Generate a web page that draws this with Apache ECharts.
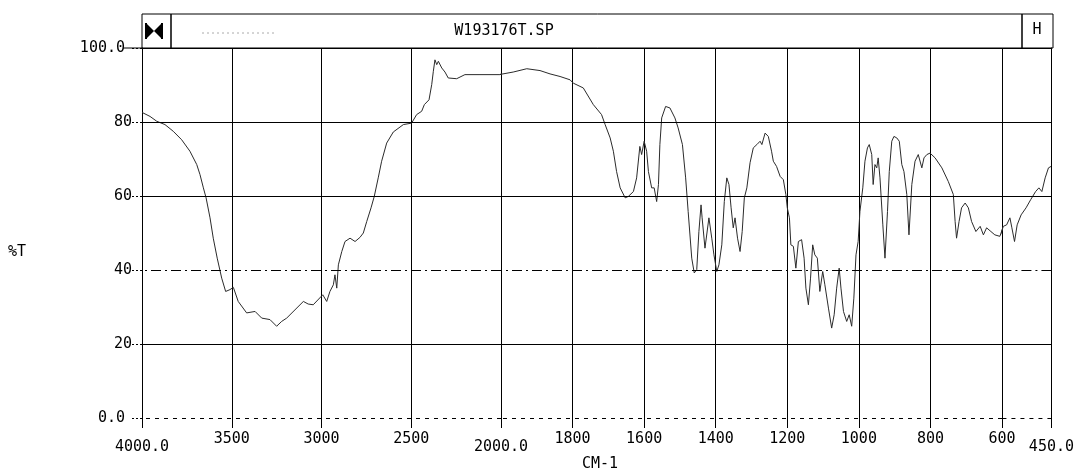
<!DOCTYPE html>
<html><head><meta charset="utf-8">
<script src="https://cdn.jsdelivr.net/npm/echarts@6/dist/echarts.min.js"></script>
<style>html,body{margin:0;padding:0;background:#fff}#c{width:1077px;height:473px}</style>
</head><body><div id="c"></div>
<script>
// ---- data ----
const wavenumber = [4000,3993,3955,3918,3872,3826,3779,3733,3695,3677,3658,3643,3621,3603,3581,3556,3534,3510,3491,3464,3417,3370,3333,3287,3250,3222,3194,
3101,3074,3046,2993,2971,2953,2934,2925,2915,2906,2887,2869,2841,2813,2786,2767,2748,2724,2706,2684,2665,2637,2600,2544,2498,2470,2442,2427,2401,2386,2377,2368,2358,2349,2330,2312,2294,2247,2201,2117,2006,
1966,1928,1891,1863,1835,1807,1798,1770,1742,1719,1709,1695,1686,1677,1667,1653,1644,1630,1621,1612,1607,1600,1593,1588,1579,1572,1565,1560,1556,1551,1540,1528,1514,1505,1493,1484,1477,1467,1460,1453,1447,1441,1438,1430,1419,1411,1405,1397,1391,1383,1376,1369,1363,1357,1351,1346,1339,1332,1326,1320,1313,1304,1295,1285,1276,1271,1262,1253,1244,1239,1230,1220,1211,1204,1200,1194,1190,1183,1176,1169,1160,1153,1148,1141,1135,1129,1123,1116,1109,1101,1095,1085,1076,1069,1062,1055,1050,1043,1034,1027,1020,1014,1008,1002,997,989,983,976,971,964,960,955,950,946,941,933,927,920,915,908,902,894,887,880,874,866,860,852,843,834,824,818,810,801,787,768,750,736,731,727,720,713,703,694,685,673,661,652,643,631,620,606,596,586,576,570,562,554,542,527,513,498,488,479,469,459,451];
const transmittance = [82.6,82.4,81.5,80.2,79.3,77.5,75.2,72.1,68.5,65.8,62.2,59.5,54.1,48.6,43.2,37.8,34.2,34.7,35.3,31.5,28.4,28.8,27.0,26.6,24.8,26.1,27.0,
31.5,30.8,30.6,33.3,31.5,34.2,36.0,38.7,35.1,41.4,45.0,47.7,48.6,47.7,48.8,50.0,53.1,56.8,59.9,64.9,69.4,74.3,77.3,79.3,79.7,82.0,82.9,84.7,86.0,90.1,93.7,96.8,95.5,96.4,94.6,93.5,91.9,91.7,92.8,92.8,92.8,
93.5,94.4,93.9,93.0,92.3,91.4,90.5,89.2,84.7,82.0,79.3,75.7,72.1,66.6,62.2,59.5,59.9,61.2,64.9,73.4,71.2,74.8,72.1,66.6,62.2,62.2,58.5,63.1,73.9,81.1,84.2,83.8,81.1,78.4,73.9,64.9,55.8,43.2,39.2,40.1,50.4,57.6,54.1,45.9,54.1,48.6,44.1,39.6,41.4,46.8,58.5,64.9,63.1,56.8,51.4,54.1,48.6,45.0,50.4,59.5,62.2,69.0,73.0,73.9,74.8,73.9,77.0,76.1,72.1,69.4,68.0,65.3,64.4,60.4,56.8,54.1,46.8,46.4,40.5,47.7,48.2,43.2,35.1,30.6,37.8,46.8,44.1,43.2,34.2,39.6,36.0,29.7,24.3,27.9,35.1,40.5,35.1,28.8,26.1,27.9,24.8,32.4,44.1,47.7,55.8,62.2,69.4,73.0,73.9,71.2,63.1,68.5,67.6,70.3,64.9,52.2,43.2,55.8,66.6,74.8,76.1,75.7,74.8,68.5,66.6,60.4,49.5,63.1,69.4,71.2,67.6,70.3,71.2,71.6,70.3,67.6,63.9,60.4,53.1,48.6,53.1,56.8,58.1,56.8,53.1,50.4,51.8,49.5,51.4,50.4,49.5,49.1,51.8,52.2,54.1,51.4,47.7,52.2,54.9,56.8,59.0,61.2,62.2,61.2,64.9,67.6,68.0];
const yTicks = [0, 20, 40, 60, 80, 100];
const xTicksHigh = [4000, 3500, 3000, 2500, 2000];
const xTicksLow = [1800, 1600, 1400, 1200, 1000, 800, 600, 450];
const titleText = 'W193176T.SP';
const xName = 'CM-1';
const yName = '%T';

// ---- build ----
const FONT = 'DejaVu Sans Mono';
function segment(lo, hi) {
  const inR = w => w >= lo && w <= hi;
  const out = [];
  for (let i = 0; i < wavenumber.length; i++) {
    if (inR(wavenumber[i]) || (i > 0 && inR(wavenumber[i-1])) || (i < wavenumber.length-1 && inR(wavenumber[i+1])))
      out.push([wavenumber[i], transmittance[i]]);
  }
  return out;
}
const panels = [
  {left:142, width:359, min:2000, max:4000, interval:500},
  {left:501, width:501, min:600, max:2000, interval:200},
  {left:1002, width:51, min:450, max:600, interval:150}
];
function xLabel(v, idx) {
  if (idx === 0) {
    if (xTicksHigh.indexOf(v) < 0) return '';
    return (v === 4000 || v === 2000) ? '{d|' + v.toFixed(1) + '}' : String(v);
  }
  if (idx === 1) return (xTicksLow.indexOf(v) >= 0 && v !== 2000) ? String(v) : '';
  return v === 450 ? '{d|' + v.toFixed(1) + '}' : '';
}
function yLabel(v) {
  if (yTicks.indexOf(v) < 0) return '';
  return (v === 0 || v === 100) ? '{e|' + v.toFixed(1) + '}' : String(v);
}
const hLines = [
  {yAxis:100}, {yAxis:80}, {yAxis:60}, {yAxis:20},
  {yAxis:40, lineStyle:{type:[10,4,2,4]}},
  {yAxis:0, lineStyle:{type:[4,5]}}
];
const option = {
  animation:false,
  backgroundColor:'#fff',
  grid: panels.map(p => ({left:p.left, width:p.width, top:48, height:370})),
  xAxis: panels.map((p, i) => ({
    type:'value', gridIndex:i, inverse:true, min:p.min, max:p.max, interval:p.interval,
    axisLine:{show:false},
    axisTick:{show:true, length:10, lineStyle:{color:'#000', width:1}},
    splitLine:{show:true, lineStyle:{color:'#000', width:1}},
    axisLabel:{show:true, margin:14, color:'#000', fontFamily:FONT, fontSize:15,
      showMinLabel:true, showMaxLabel:true,
      formatter: v => xLabel(v, i),
      rich:{d:{color:'#000', fontFamily:FONT, fontSize:15, padding:[8,0,0,0]}}}
  })),
  yAxis: panels.map((p, i) => ({
    type:'value', gridIndex:i, min:0, max:100, interval:20,
    position: i === 2 ? 'right' : 'left',
    axisLine:{show: i === 0 || i === 2, lineStyle:{color:'#000', width:1}},
    axisTick:{show: i === 0, length:10, lineStyle:{color:'#000', type:[2,2]}},
    splitLine:{show:false},
    axisLabel:{show: i === 0, margin:10, color:'#000', fontFamily:FONT, fontSize:15,
      formatter: yLabel,
      rich:{e:{color:'#000', fontFamily:FONT, fontSize:15, padding:[0,7,0,0]}}}
  })),
  series: panels.map((p, i) => ({
    type:'line', xAxisIndex:i, yAxisIndex:i, data:segment(p.min, p.max),
    symbol:'none', clip:true, lineStyle:{color:'#2b2b2b', width:1}, silent:true,
    markLine:{silent:true, symbol:['none','none'], label:{show:false},
      lineStyle:{color:'#000', width:1, type:'solid'}, data:hLines}
  })),
  graphic: [
    {type:'rect', shape:{x:142, y:14, width:911, height:34}, style:{fill:'none', stroke:'#000', lineWidth:1}},
    {type:'line', shape:{x1:123, y1:48, x2:142, y2:48}, style:{stroke:'#000', lineWidth:1}},
    {type:'line', shape:{x1:171, y1:14, x2:171, y2:48}, style:{stroke:'#000', lineWidth:1.5}},
    {type:'line', shape:{x1:1022, y1:14, x2:1022, y2:48}, style:{stroke:'#000', lineWidth:1.5}},
    {type:'polygon', shape:{points:[[146,23],[154,31],[146,39]]}, style:{fill:'#000'}},
    {type:'polygon', shape:{points:[[162,23],[154,31],[162,39]]}, style:{fill:'#000'}},
    {type:'line', shape:{x1:146, y1:23, x2:146, y2:39}, style:{stroke:'#000', lineWidth:2}},
    {type:'line', shape:{x1:162, y1:23, x2:162, y2:39}, style:{stroke:'#000', lineWidth:2}},
    {type:'line', shape:{x1:202, y1:33, x2:274, y2:33}, style:{stroke:'#aaa', lineWidth:1, lineDash:[2,3]}},
    {type:'text', x:504, y:31, style:{text:titleText, font:'15px ' + FONT, fill:'#000', textAlign:'center', textVerticalAlign:'middle', align:'center', verticalAlign:'middle'}},
    {type:'text', x:1037, y:30, style:{text:'H', font:'15px ' + FONT, fill:'#000', textAlign:'center', textVerticalAlign:'middle', align:'center', verticalAlign:'middle'}},
    {type:'text', x:17, y:252, style:{text:yName, font:'15px ' + FONT, fill:'#000', textAlign:'center', textVerticalAlign:'middle', align:'center', verticalAlign:'middle'}},
    {type:'text', x:600, y:464, style:{text:xName, font:'15px ' + FONT, fill:'#000', textAlign:'center', textVerticalAlign:'middle', align:'center', verticalAlign:'middle'}}
  ]
};
echarts.init(document.getElementById('c'), null, {renderer:'canvas'}).setOption(option);
</script></body></html>
